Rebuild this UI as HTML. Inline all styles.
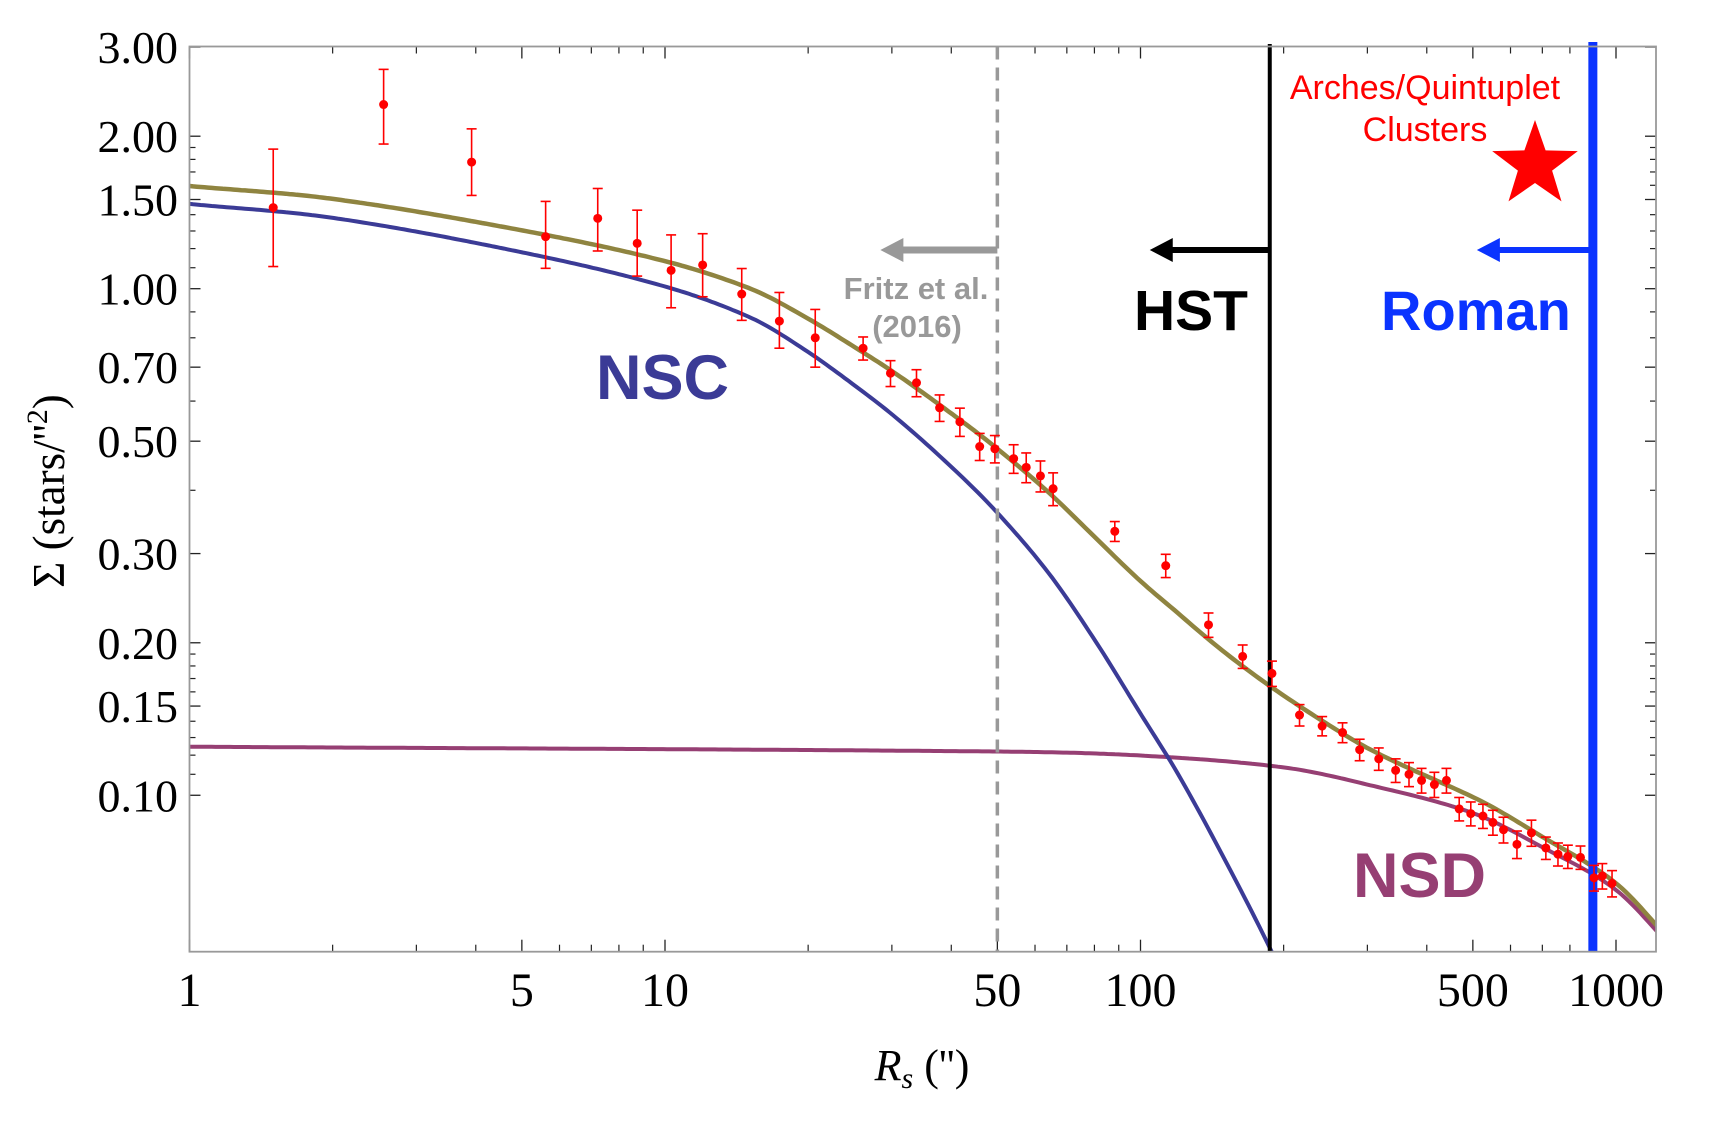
<!DOCTYPE html>
<html><head><meta charset="utf-8"><style>
html,body{margin:0;padding:0;background:#fff;overflow:hidden;width:1710px;height:1125px;}
svg{display:block;}
</style></head><body>
<svg id="chart" width="1710" height="1125" viewBox="0 0 1710 1125" xmlns="http://www.w3.org/2000/svg">
<defs><clipPath id="plotclip"><rect x="189.5" y="46.5" width="1466.5" height="905.2"/></clipPath></defs>
<g id="ticks"></g>
<g id="curves" clip-path="url(#plotclip)"></g>
<g id="refs"></g>
<g id="points"></g>
<g id="labels"></g>
<rect x="189.5" y="46.5" width="1466.5" height="905.2" fill="none" stroke="#999" stroke-width="1.8"/>

<text x="596" y="399" font-family="Liberation Sans, sans-serif" font-weight="bold" font-size="63" fill="#3b3b96">NSC</text>
<text x="1353" y="897" font-family="Liberation Sans, sans-serif" font-weight="bold" font-size="63" fill="#963f73">NSD</text>
<text x="1134" y="330" font-family="Liberation Sans, sans-serif" font-weight="bold" font-size="57" fill="#000">HST</text>
<text x="1381" y="330" font-family="Liberation Sans, sans-serif" font-weight="bold" font-size="56" fill="#0a33ff">Roman</text>
<text x="916" y="299" text-anchor="middle" font-family="Liberation Sans, sans-serif" font-weight="bold" font-size="31" fill="#999">Fritz et al.</text>
<text x="917" y="337" text-anchor="middle" font-family="Liberation Sans, sans-serif" font-weight="bold" font-size="31" fill="#999">(2016)</text>
<text x="1425" y="99" text-anchor="middle" font-family="Liberation Sans, sans-serif" font-size="34" fill="#f00">Arches/Quintuplet</text>
<text x="1425" y="141" text-anchor="middle" font-family="Liberation Sans, sans-serif" font-size="34" fill="#f00">Clusters</text>
<polygon id="star" fill="#f00"/>

<text transform="translate(64,491) rotate(-90)" text-anchor="middle" font-family="Liberation Serif, serif" font-size="45" fill="#000">Σ (stars/''<tspan font-size="30" dy="-17">2</tspan><tspan dy="17">)</tspan></text>
<text x="922" y="1080" text-anchor="middle" font-family="Liberation Serif, serif" font-size="44" fill="#000"><tspan font-style="italic">R</tspan><tspan font-style="italic" font-size="30" dy="8">s</tspan><tspan dy="-8"> ('')</tspan></text>
</svg>
<script>
// ---- data ----
const obsR = [1.50,2.56,3.92,5.61,7.22,8.74,10.3,12.0,14.5,17.4,20.7,26.1,29.8,33.8,37.8,41.7,45.9,49.4,54.1,57.5,61.6,65.5,88.3,113,139,164,189,216,241,266,289,317,344,367,390,415,440,468,495,525,551,580,619,664,712,755,792,842,899,936,981];
const obsSigma = [1.446,2.31,1.778,1.267,1.377,1.229,1.087,1.114,0.976,0.863,0.80,0.763,0.681,0.652,0.582,0.546,0.488,0.483,0.462,0.444,0.427,0.403,0.332,0.284,0.217,0.188,0.174,0.144,0.137,0.133,0.123,0.118,0.112,0.110,0.107,0.105,0.107,0.094,0.092,0.091,0.0884,0.0855,0.080,0.0843,0.0787,0.0765,0.0757,0.0754,0.0687,0.0693,0.067];
const errUp = [0.44,0.40,0.29,0.22,0.20,0.20,0.19,0.17,0.12,0.12,0.11,0.04,0.04,0.04,0.035,0.035,0.03,0.03,0.03,0.03,0.03,0.03,0.015,0.015,0.012,0.01,0.01,0.007,0.006,0.006,0.006,0.006,0.006,0.006,0.006,0.006,0.006,0.005,0.005,0.005,0.005,0.005,0.005,0.005,0.004,0.004,0.004,0.004,0.004,0.004,0.004];
const errDown = [0.34,0.38,0.25,0.17,0.19,0.17,0.17,0.15,0.11,0.10,0.10,0.04,0.04,0.04,0.035,0.035,0.03,0.03,0.03,0.03,0.03,0.03,0.015,0.015,0.012,0.01,0.01,0.007,0.006,0.006,0.006,0.006,0.006,0.006,0.006,0.006,0.006,0.005,0.005,0.005,0.005,0.005,0.005,0.005,0.004,0.004,0.004,0.004,0.004,0.004,0.004];
const nscR = [1,2,5,10,15.2,19.7,25,31,40,50,64,80,100,120,150,187,250,300,500,1000,1300];
const nscSigma = [1.47,1.38,1.18,1.01,0.875,0.757,0.645,0.551,0.445,0.361,0.275,0.203,0.145,0.110,0.075,0.050,0.028,0.019,0.007,0.002,0.0012];
const nsdR = [1,50,100,200,300,500,700,1000,1300];
const nsdSigma = [0.1247,0.122,0.1198,0.1135,0.105,0.0922,0.079,0.065,0.0505];
const xTicks = [1,5,10,50,100,500,1000];
const xTickLabels = ["1","5","10","50","100","500","1000"];
const yTicks = [3,2,1.5,1,0.7,0.5,0.3,0.2,0.15,0.1];
const yTickLabels = ["3.00","2.00","1.50","1.00","0.70","0.50","0.30","0.20","0.15","0.10"];
const xMinor = [2,3,4,6,7,8,9,20,30,40,60,70,80,90,200,300,400,600,700,800,900];
const yMinor = [1.9,1.8,1.7,1.6,1.4,1.3,1.2,1.1,0.9,0.8,0.6,0.4,0.19,0.18,0.17,0.16,0.14,0.13,0.12,0.11];
const limitHST = 187, limitRoman = 894, limitFritz = 50;

// ---- scales ----
const L=189.5, R=1656, T=46.5, B=951.7;
function X(v){return L+475.5*Math.log10(v);}
function Y(v){return 288.7-220*Math.log(v);}
const NS='http://www.w3.org/2000/svg';
function mk(tag,attrs,parent){const e=document.createElementNS(NS,tag);for(const k in attrs)e.setAttribute(k,attrs[k]);parent.appendChild(e);return e;}
// Hermite interpolation in log-log space
function interp(rs,vs,r){
  const xs=rs.map(Math.log), ys=vs.map(Math.log), lr=Math.log(r);
  const n=xs.length;
  let i=0; while(i<n-2 && lr>xs[i+1]) i++;
  const x0=xs[i],x1=xs[i+1],y0=ys[i],y1=ys[i+1];
  const m=(k)=>{ if(k<=0) return (ys[1]-ys[0])/(xs[1]-xs[0]); if(k>=n-1) return (ys[n-1]-ys[n-2])/(xs[n-1]-xs[n-2]); return (ys[k+1]-ys[k-1])/(xs[k+1]-xs[k-1]); };
  const h=x1-x0, t=Math.max(0,Math.min(1,(lr-x0)/h));
  const m0=m(i)*h, m1=m(i+1)*h;
  const t2=t*t,t3=t2*t;
  const y=(2*t3-3*t2+1)*y0+(t3-2*t2+t)*m0+(-2*t3+3*t2)*y1+(t3-t2)*m1;
  return Math.exp(y);
}
const ticksG=document.getElementById('ticks'), labG=document.getElementById('labels');
xTicks.forEach((v,i)=>{
  const x=X(v);
  let t=mk('line',{x1:x,x2:x,y1:B,y2:B-12,stroke:'#222','stroke-width':1.3},ticksG);
  
  
  let t2=mk('line',{x1:x,x2:x,y1:T,y2:T+12,stroke:'#222','stroke-width':1.3},ticksG);
  
  
  let lb=mk('text',{x:x,y:1006,'text-anchor':'middle','font-family':'Liberation Serif, serif','font-size':48,fill:'#000'},labG);
  lb.textContent=xTickLabels[i];
  
  
});
xMinor.forEach(v=>{
  const x=X(v);
  let t=mk('line',{x1:x,x2:x,y1:B,y2:B-7,stroke:'#222','stroke-width':1.2},ticksG);
  
  
  let t2=mk('line',{x1:x,x2:x,y1:T,y2:T+7,stroke:'#222','stroke-width':1.2},ticksG);
  
  
});
yTicks.forEach((v,i)=>{
  const y=Y(v);
  let t=mk('line',{x1:L,x2:L+11,y1:y,y2:y,stroke:'#222','stroke-width':1.3},ticksG);
  
  
  let t2=mk('line',{x1:R,x2:R-11,y1:y,y2:y,stroke:'#222','stroke-width':1.3},ticksG);
  
  
  let lb=mk('text',{x:178,y:y+16,'text-anchor':'end','font-family':'Liberation Serif, serif','font-size':46,fill:'#000'},labG);
  lb.textContent=yTickLabels[i];
  
  
});
yMinor.forEach(v=>{
  const y=Y(v);
  let t=mk('line',{x1:L,x2:L+6,y1:y,y2:y,stroke:'#222','stroke-width':1.2},ticksG);
  
  
  let t2=mk('line',{x1:R,x2:R-6,y1:y,y2:y,stroke:'#222','stroke-width':1.2},ticksG);
  
  
});

// curves
const curvesG=document.getElementById('curves');
function pathFor(fn){
  let d='';const n=400;const lo=0,hi=Math.log10(1300);
  for(let i=0;i<=n;i++){const r=Math.pow(10,lo+(hi-lo)*i/n);d+=(i?'L':'M')+X(r).toFixed(1)+','+Y(fn(r)).toFixed(1);}
  return d;
}
let nsd=mk('path',{d:pathFor(r=>interp(nsdR,nsdSigma,r)),fill:'none',stroke:'#963f73','stroke-width':4},curvesG);


let nsc=mk('path',{d:pathFor(r=>interp(nscR,nscSigma,r)),fill:'none',stroke:'#3b3b96','stroke-width':4},curvesG);


let tot=mk('path',{d:pathFor(r=>interp(nscR,nscSigma,r)+interp(nsdR,nsdSigma,r)),fill:'none',stroke:'#8f8440','stroke-width':4.5},curvesG);



// reference lines & arrows
const refG=document.getElementById('refs');
const arrowY=250;
const xf=X(limitFritz), xh=X(limitHST), xr=X(limitRoman);
let fl=mk('line',{x1:xf,x2:xf,y1:T,y2:B,stroke:'#999','stroke-width':3.5,'stroke-dasharray':'13,8'},refG);


let fa=mk('path',{d:`M${xf},${arrowY}H${xf-95}`,stroke:'#999','stroke-width':7,fill:'none'},refG);


let fah=mk('polygon',{points:`${xf-117},${arrowY} ${xf-94},${arrowY-12} ${xf-94},${arrowY+12}`,fill:'#999'},refG);


let hl=mk('line',{x1:xh,x2:xh,y1:44,y2:B,stroke:'#000','stroke-width':4},refG);


let ha=mk('path',{d:`M${xh},${arrowY}H${xh-100}`,stroke:'#000','stroke-width':6,fill:'none'},refG);


let hah=mk('polygon',{points:`${xh-120},${arrowY} ${xh-97},${arrowY-12} ${xh-97},${arrowY+12}`,fill:'#000'},refG);


let rl=mk('line',{x1:xr,x2:xr,y1:42,y2:B,stroke:'#0a33ff','stroke-width':9},refG);


let ra=mk('path',{d:`M${xr},${arrowY}H${xr-95}`,stroke:'#0a33ff','stroke-width':6,fill:'none'},refG);


let rah=mk('polygon',{points:`${xr-116},${arrowY} ${xr-93},${arrowY-12} ${xr-93},${arrowY+12}`,fill:'#0a33ff'},refG);



// star
(function(){const cx=1535,cy=165,ro=45,ri=18;let p=[];
for(let i=0;i<10;i++){const a=-Math.PI/2+i*Math.PI/5;const r=i%2?ri:ro;p.push((cx+r*Math.cos(a)).toFixed(1)+','+(cy+r*Math.sin(a)).toFixed(1));}
document.getElementById('star').setAttribute('points',p.join(' '));})();

// data points
const ptsG=document.getElementById('points');
obsR.forEach((r,i)=>{
  const x=X(r), y=Y(obsSigma[i]), yt=Y(obsSigma[i]+errUp[i]), yb=Y(obsSigma[i]-errDown[i]);
  const g=mk('g',{},ptsG);
  
  
  mk('line',{x1:x,x2:x,y1:yt,y2:yb,stroke:'#f00','stroke-width':1.6},g);
  mk('line',{x1:x-5,x2:x+5,y1:yt,y2:yt,stroke:'#f00','stroke-width':1.6},g);
  mk('line',{x1:x-5,x2:x+5,y1:yb,y2:yb,stroke:'#f00','stroke-width':1.6},g);
  mk('circle',{cx:x,cy:y,r:4.5,fill:'#f00'},g);
});
</script>
</body></html>
